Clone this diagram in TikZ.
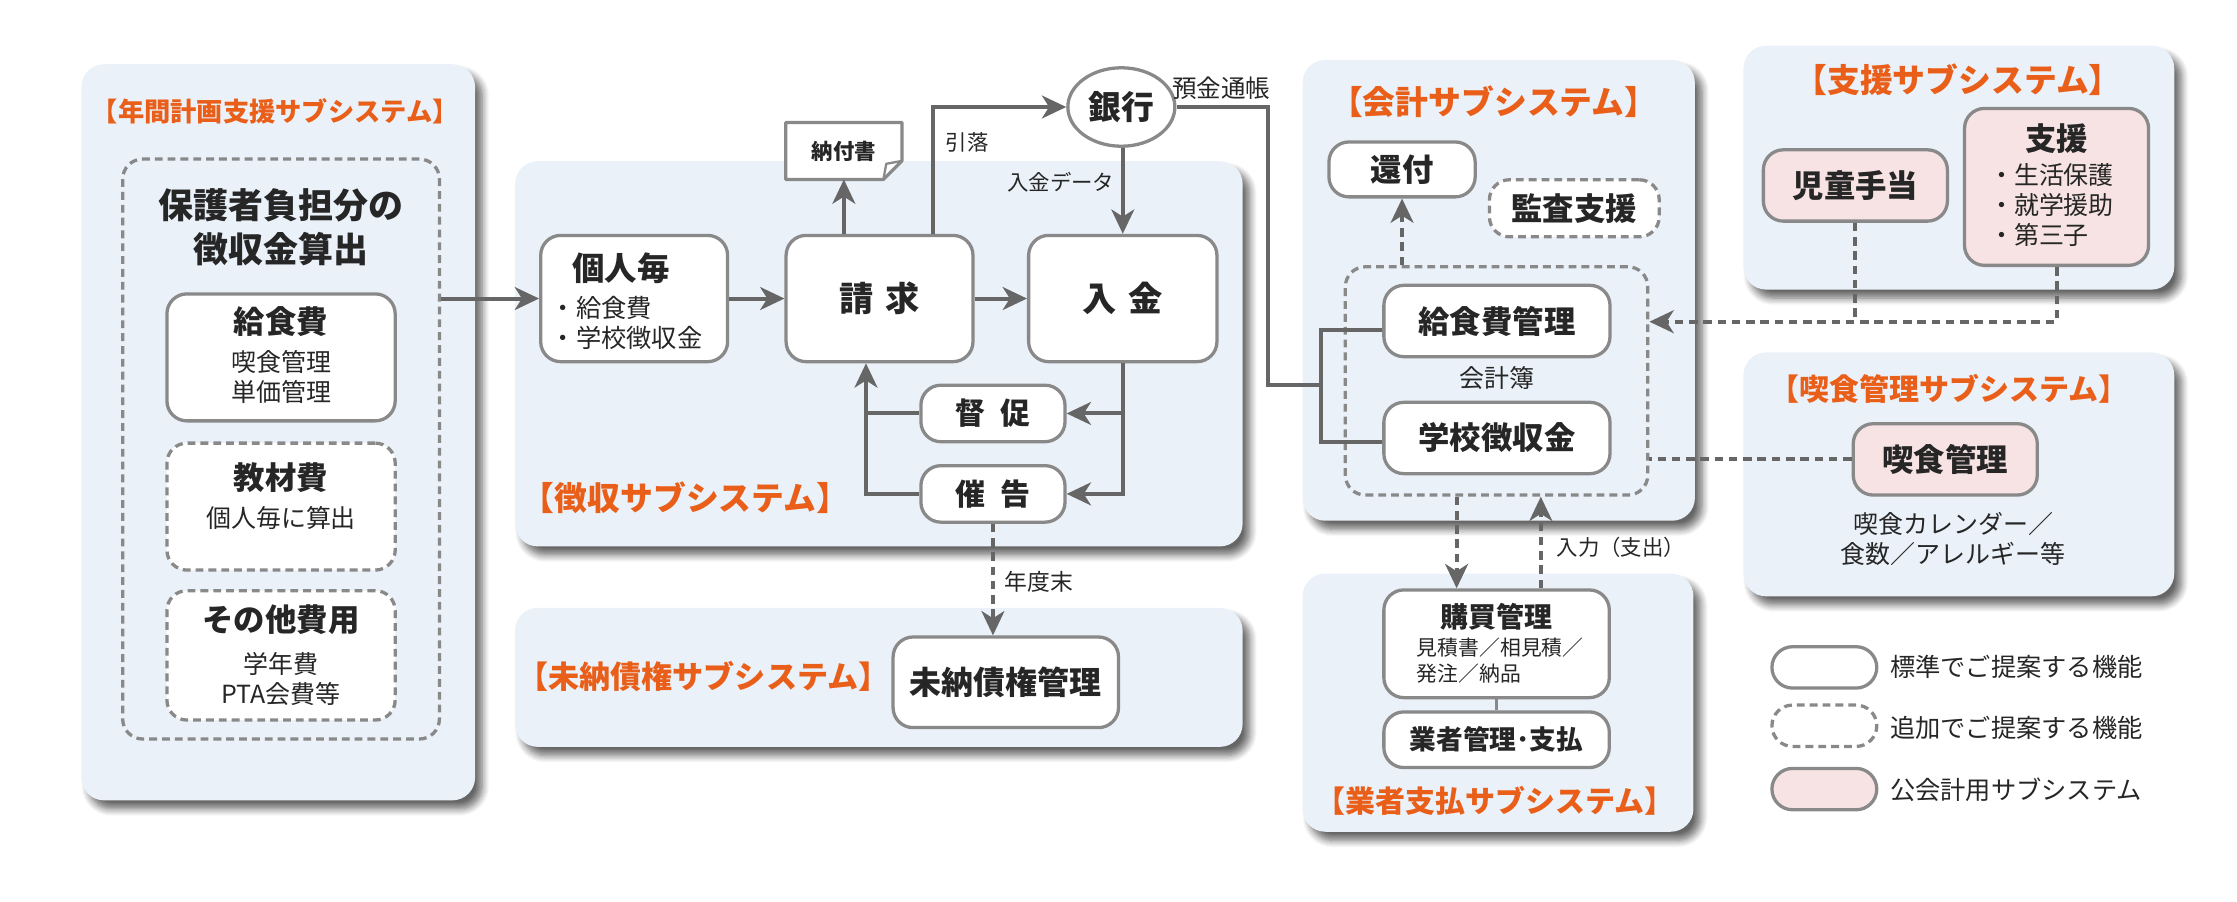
\documentclass[tikz,border=0pt]{standalone}
\usepackage{fontspec}
\setmainfont{Noto Sans CJK JP}
\usetikzlibrary{arrows.meta,shapes.geometric,shadows.blur}
\definecolor{panelblue}{RGB}{234,241,248}
\definecolor{edgegray}{RGB}{137,137,137}
\definecolor{linegray}{RGB}{102,102,102}
\definecolor{titleorange}{RGB}{233,95,25}
\definecolor{pubpink}{RGB}{247,227,227}
\definecolor{ink}{RGB}{38,38,38}
\begin{document}
\begin{tikzpicture}[x=1pt,y=-1pt,
    every node/.style={text=ink,inner sep=0pt},
    panel/.style={fill=panelblue,rounded corners=16pt,
        blur shadow={shadow xshift=5pt,shadow yshift=-6pt,shadow blur steps=8,shadow blur radius=5pt,shadow opacity=60}},
    box/.style={draw=edgegray,line width=2.3pt,fill=white,rounded corners=14pt},
    addbox/.style={box,dash pattern=on 5.5pt off 3.5pt},
    pubbox/.style={box,fill=pubpink},
    group/.style={draw=edgegray,line width=2.3pt,rounded corners=14pt,dash pattern=on 5.5pt off 3.5pt},
    ttl/.style={text=titleorange,font=\fontsize{23}{27}\selectfont\bfseries},
    hd/.style={font=\fontsize{22}{26}\selectfont\bfseries},
    sub/.style={font=\fontsize{17.5}{21}\selectfont,align=center},
    lab/.style={font=\fontsize{15}{18}\selectfont},
    conn/.style={draw=linegray,line width=2.8pt},
    arr/.style={conn,-{Stealth[length=17pt,width=16pt,inset=5pt]}},
    dconn/.style={conn,dash pattern=on 6pt off 4pt},
    darr/.style={arr,dash pattern=on 6pt off 4pt}]
\useasboundingbox (0,0) rectangle (1568,632);

% panels
\path[panel] (57,45) rectangle (333,561);
\path[panel] (361,113) rectangle (871,383);
\path[panel] (361,426) rectangle (871,523.5);
\path[panel] (913,42) rectangle (1188,365);
\path[panel] (913,402) rectangle (1187,583);
\path[panel] (1222,32) rectangle (1524,203);
\path[panel] (1222,247) rectangle (1524,418);

% annual plan
\node[ttl,font=\fontsize{18.4}{22}\selectfont\bfseries] (t1) at (193,78) {【年間計画支援サブシステム】};
\node[group,minimum width=222pt,minimum height=406.5pt] (calc) at (197,314.75) {};
\node[font=\fontsize{24.5}{31}\selectfont\bfseries,align=center] (calct) at (197,159.2) {保護者負担分の\\徴収金算出};
\node[box,minimum width=160pt,minimum height=89pt] (kyu) at (197,250.5) {};
\node[hd] (kyut) at (197,225.7) {給食費};
\node[sub] (kyus) at (197,264) {喫食管理\\単価管理};
\node[addbox,minimum width=160pt,minimum height=89pt] (kyo) at (197,355.1) {};
\node[hd] (kyot) at (197,334.6) {教材費};
\node[sub] (kyos) at (197,363) {個人毎に算出};
\node[addbox,minimum width=160pt,minimum height=90.7pt] (sono) at (197,459.35) {};
\node[hd] (sonot) at (197,434.6) {その他費用};
\node[sub] (sonos) at (197,475.8) {学年費\\PTA会費等};

% collection
\node[ttl] (t2) at (480.5,349) {【徴収サブシステム】};
\node[box,minimum width=131pt,minimum height=88.5pt] (kojin) at (444.5,209.25) {};
\node[font=\fontsize{22.7}{26}\selectfont\bfseries,anchor=west] (kojint) at (401,188) {個人毎};
\node[font=\fontsize{17.7}{21}\selectfont,anchor=west,align=left] (kojins) at (386,226.5) {・給食費\\・学校徴収金};
\node[box,minimum width=131pt,minimum height=88.5pt,font=\fontsize{24}{28}\selectfont\bfseries] (seikyu) at (616.5,209.25) {請\hspace{8.5pt}求};
\node[box,minimum width=132pt,minimum height=88.5pt,font=\fontsize{24}{28}\selectfont\bfseries] (nyukin) at (787,209.25) {入\hspace{8.5pt}金};
\node[box,minimum width=101pt,minimum height=39.6pt,font=\fontsize{21}{24}\selectfont\bfseries] (tokusoku) at (696,289.8) {督\hspace{10pt}促};
\node[box,minimum width=101pt,minimum height=39.6pt,font=\fontsize{21}{24}\selectfont\bfseries] (saikoku) at (696,346.2) {催\hspace{10pt}告};
\node[minimum width=81pt,minimum height=39.6pt] (nofu) at (591.5,105.8) {};
\draw[draw=edgegray,line width=2.3pt,fill=white,line join=round] (nofu.north west) -- (nofu.north east)
    -- ([yshift=13pt]nofu.south east) -- ([xshift=-13pt]nofu.south east) -- (nofu.south west) -- cycle;
\draw[draw=edgegray,line width=1.6pt,line join=round] ([xshift=-13pt]nofu.south east)
    -- ([xshift=-11pt,yshift=11pt]nofu.south east) -- ([yshift=13pt]nofu.south east);
\node[font=\fontsize{15}{18}\selectfont\bfseries] (nofut) at (nofu) {納付書};
\node[ellipse,draw=edgegray,line width=2.3pt,fill=white,minimum width=75pt,minimum height=55pt,
    font=\fontsize{23}{26}\selectfont\bfseries] (bank) at (786,75) {銀行};
\node[lab] (hikiotoshi) at (678,99.5) {引落};
\node[lab] (nyukindata) at (743.5,128) {入金データ};
\node[font=\fontsize{17.2}{20}\selectfont] (yokin) at (856,62) {預金通帳};
\node[font=\fontsize{16}{19}\selectfont] (nendo) at (728,408) {年度末};

% arrears
\node[ttl,font=\fontsize{21.8}{26}\selectfont\bfseries] (t3) at (493,474.5) {【未納債権サブシステム】};
\node[box,minimum width=158pt,minimum height=63.5pt,font=\fontsize{22.4}{26}\selectfont\bfseries] (minou) at (705,478.25) {未納債権管理};

% accounting
\node[ttl] (t4) at (1047,71.5) {【会計サブシステム】};
\node[box,minimum width=102.5pt,minimum height=38.5pt,hd] (kanpu) at (982.75,118.75) {還付};
\node[addbox,minimum width=119pt,minimum height=40pt,hd] (kansa) at (1103.5,146) {監査支援};
\node[group,minimum width=212pt,minimum height=160pt] (grp) at (1049,267) {};
\node[box,minimum width=158.5pt,minimum height=50pt,hd] (kyuk) at (1049.25,225) {給食費管理};
\node[sub] (kaikeibo) at (1049,265) {会計簿};
\node[box,minimum width=158.5pt,minimum height=50pt,hd] (gakk) at (1049.25,307) {学校徴収金};

% purchasing
\node[box,minimum width=158pt,minimum height=75.5pt] (koubai) at (1049,451.25) {};
\node[font=\fontsize{19.6}{23}\selectfont\bfseries] (koubait) at (1049,432) {購買管理};
\node[font=\fontsize{14.6}{18}\selectfont,anchor=west,align=left] (koubais) at (993,463) {見積書／相見積／\\発注／納品};
\node[box,minimum width=158pt,minimum height=39pt,font=\fontsize{18.7}{22}\selectfont\bfseries] (gyosha) at (1049,518.5) {業者管理･支払};
\node[ttl,font=\fontsize{21}{25}\selectfont\bfseries] (t5) at (1048,561) {【業者支払サブシステム】};
\node[lab,anchor=west] (nyuryoku) at (1091,384) {入力（支出）};

% support
\node[ttl] (t6) at (1372.5,56) {【支援サブシステム】};
\node[pubbox,minimum width=129pt,minimum height=50pt,hd] (jido) at (1300.5,130) {児童手当};
\node[pubbox,minimum width=129pt,minimum height=110pt] (shien) at (1441.5,131) {};
\node[hd] (shient) at (1441.5,97) {支援};
\node[sub,anchor=west,align=left] (shiens) at (1394,144) {・生活保護\\・就学援助\\・第三子};

% meals
\node[ttl,font=\fontsize{21}{25}\selectfont\bfseries] (t7) at (1366,272.6) {【喫食管理サブシステム】};
\node[pubbox,minimum width=129pt,minimum height=50pt,hd] (kisshoku) at (1363.5,322) {喫食管理};
\node[sub] (kisshokus) at (1369,377.5) {喫食カレンダー／\\食数／アレルギー等};

% legend
\node[box,rounded corners=14.5pt,minimum width=73.5pt,minimum height=29pt] (lg1) at (1278.75,467.8) {};
\node[addbox,rounded corners=14.5pt,minimum width=73.5pt,minimum height=29pt] (lg2) at (1278.75,508.7) {};
\node[pubbox,rounded corners=14.5pt,minimum width=73.5pt,minimum height=29pt] (lg3) at (1278.75,553.1) {};
\node[font=\fontsize{17.7}{21}\selectfont,anchor=west] (lg1t) at (1324.7,467.4) {標準でご提案する機能};
\node[font=\fontsize{17.7}{21}\selectfont,anchor=west] (lg2t) at (1324.7,510.4) {追加でご提案する機能};
\node[font=\fontsize{17.7}{21}\selectfont,anchor=west] (lg3t) at (1324.7,553.7) {公会計用サブシステム};

% connectors
\draw[arr] (calc.east |- kojin.west) -- (kojin.west);
\draw[arr] (kojin.east) -- (seikyu.west);
\draw[arr] (seikyu.east) -- (nyukin.west);
\draw[arr] (nofu.south |- seikyu.north) -- (nofu.south);
\draw[arr] ([xshift=37.5pt]seikyu.north) |- (bank.west);
\draw[arr] (bank.south -| nyukin.north) -- (nyukin.north);
\coordinate (jn) at (926,270);
\draw[conn] (bank.east) -| ([xshift=-37pt]jn) -- (jn);
\draw[conn] ([yshift=-6pt]kyuk.west) -| (jn) |- ([yshift=-3pt]gakk.west);
\draw[arr] (nyukin.south) |- (tokusoku.east);
\draw[arr] (nyukin.south) |- (saikoku.east);
\draw[arr] (saikoku.west) -| ([xshift=-9.5pt]seikyu.south);
\draw[conn] (tokusoku.west) -- ([xshift=-9.5pt]seikyu.south |- tokusoku.west);
\draw[darr] (saikoku.south) -- (saikoku.south |- minou.north);
\draw[darr] (grp.north -| kanpu.south) -- (kanpu.south);
\draw[darr] ([xshift=-28pt]grp.south) -- ([xshift=-28pt]grp.south |- koubai.north);
\draw[darr] ([xshift=31pt]koubai.north) -- ([xshift=31pt]koubai.north |- grp.south);
\draw[draw=edgegray,line width=2.3pt] (koubai.south) -- (gyosha.north);
\coordinate (hook) at ([yshift=41.5pt]grp.east);
\draw[darr] (shien.south) |- (hook);
\draw[dconn] (jido.south) -- (jido.south |- hook);
\draw[dconn] (kisshoku.west) -- (kisshoku.west -| grp.east);
\end{tikzpicture}
\end{document}
